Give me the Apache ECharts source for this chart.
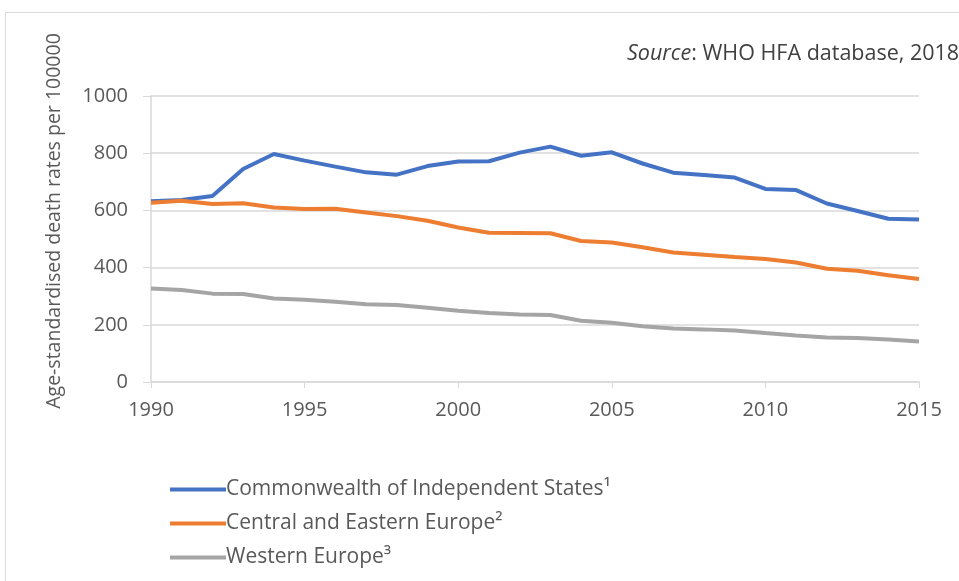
<!DOCTYPE html>
<html>
<head>
<meta charset="utf-8">
<script src="https://cdn.jsdelivr.net/npm/echarts@6/dist/echarts.min.js"></script>
<style>
  html, body { margin: 0; padding: 0; background: #fff; }
  #main { width: 959px; height: 581px; }
</style>
</head>
<body>
<div id="main"></div>
<script>
var years = [];
for (var y = 1990; y <= 2015; y++) years.push(String(y));

var cisValues = [632, 636, 650, 745, 797, 774, 753, 733, 725, 755, 771, 772, 802, 823, 791, 803, 764, 732, 724, 715, 675, 671, 624, 598, 571, 568];
var ceeValues = [627, 634, 622, 625, 610, 605, 606, 593, 580, 564, 540, 522, 521, 520, 493, 488, 471, 453, 445, 437, 430, 418, 396, 389, 373, 360];
var westValues = [327, 322, 309, 308, 292, 288, 281, 272, 269, 260, 249, 241, 236, 234, 214, 207, 195, 187, 184, 180, 171, 163, 156, 154, 149, 142];

var seriesNames = [
  "Commonwealth of Independent States\u00b9",
  "Central and Eastern Europe\u00b2",
  "Western Europe\u00b3"
];
var colors = ["#4472C4", "#ED7D31", "#A5A5A5"];

var font = "'Open Sans', 'Noto Sans', sans-serif";
var textColor = "#595959";

var myChart = echarts.init(document.getElementById("main"));

function makeSeries(name, data, color) {
  return {
    name: name,
    type: "line",
    data: data,
    showSymbol: false,
    symbol: "none",
    lineStyle: { width: 4, color: color },
    itemStyle: { color: color },
    animation: false
  };
}

var option = {
  animation: false,
  textStyle: { fontFamily: font },
  graphic: [
    {
      type: "rect",
      shape: { x: 5.5, y: 12.5, width: 1000, height: 1000 },
      style: { fill: "none", stroke: "#d9d9d9", lineWidth: 1 }
    },
    {
      type: "text",
      x: 627,
      y: 54,
      style: {
        text: "{i|Source}: WHO HFA database, 2018",
        rich: { i: { fontStyle: "italic", fontSize: 21.5, fontFamily: font, fill: "#404040" } },
        fontSize: 21.5,
        fontFamily: font,
        fill: "#404040",
        verticalAlign: "middle"
      }
    },
    {
      type: "text",
      x: 54,
      y: 221,
      rotation: Math.PI / 2,
      style: {
        text: "Age-standardised death rates per 100000",
        fontSize: 19.5,
        fontFamily: font,
        fill: textColor,
        align: "center",
        verticalAlign: "middle"
      }
    }
  ],
  legend: {
    orient: "vertical",
    left: 165,
    top: 474,
    icon: "rect",
    itemWidth: 56,
    itemHeight: 4,
    itemGap: 13,
    textStyle: { fontSize: 21, color: textColor, fontFamily: font, padding: [0, 0, 0, -5] },
    data: seriesNames
  },
  grid: { left: 151, right: 40, top: 96, bottom: 199, containLabel: false },
  xAxis: {
    type: "category",
    boundaryGap: false,
    data: years,
    axisLine: { lineStyle: { color: "#d9d9d9", width: 1.5 } },
    axisTick: { show: true, interval: 4, length: 6, lineStyle: { color: "#d9d9d9" } },
    axisLabel: { interval: 4, fontSize: 20, color: textColor, margin: 18, fontFamily: font },
    splitLine: { show: false }
  },
  yAxis: {
    type: "value",
    min: 0,
    max: 1000,
    interval: 200,
    axisLine: { show: true, lineStyle: { color: "#d9d9d9", width: 1.5 } },
    axisTick: { show: true, length: 8, lineStyle: { color: "#d9d9d9" } },
    axisLabel: { fontSize: 20, color: textColor, margin: 23, fontFamily: font, formatter: function (v) { return String(v); } },
    splitLine: { lineStyle: { color: "#d9d9d9", width: 1.5 } }
  },
  series: [
    makeSeries(seriesNames[0], cisValues, colors[0]),
    makeSeries(seriesNames[1], ceeValues, colors[1]),
    makeSeries(seriesNames[2], westValues, colors[2])
  ]
};
myChart.setOption(option);
</script>
</body>
</html>
